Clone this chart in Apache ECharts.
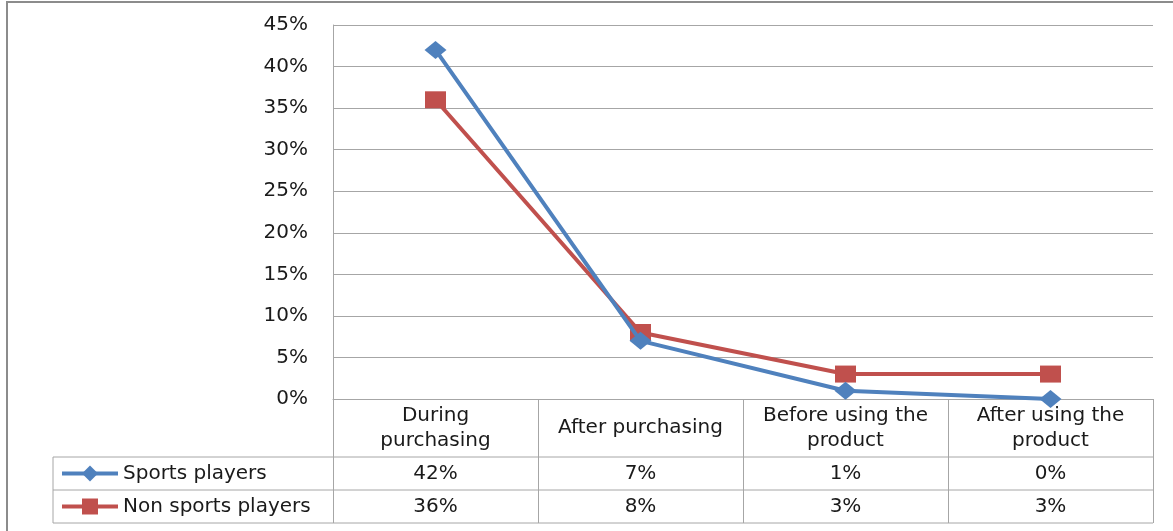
<!DOCTYPE html>
<html><head><meta charset="utf-8">
<script src="https://cdn.jsdelivr.net/npm/echarts@6/dist/echarts.min.js"></script>
<style>html,body{margin:0;padding:0;background:#fff}#c{width:1173px;height:531px}</style>
</head><body><div id="c"></div>
<script>
const categories = ['During purchasing', 'After purchasing', 'Before using the product', 'After using the product'];
const headerLabels = ['During\npurchasing', 'After purchasing', 'Before using the\nproduct', 'After using the\nproduct'];
const seriesNames = ['Sports players', 'Non sports players'];
const sportsPlayers = [42, 7, 1, 0];
const nonSportsPlayers = [36, 8, 3, 3];
const yMax = 45, yStep = 5;

const FONT = 'DejaVu Sans';
const FS = 20;
const TXT = '#1a1a1a';
const LINE = '#a6a6a6';
const BLUE = '#4F81BD', RED = '#C0504D';
// layout
const gL = 333, gR = 1153, gT = 25, gB = 399;
const headerH = 58, rowH = 33, tableLeft = 53;
const W = 1173, H = 531;

const chart = echarts.init(document.getElementById('c'), null, {renderer: 'canvas'});
const option = {
  animation: false,
  backgroundColor: '#fff',
  grid: {left: gL, right: W - gR, top: gT, bottom: H - gB, containLabel: false, outerBoundsMode: 'none'},
  xAxis: {
    type: 'category', data: categories, boundaryGap: true,
    axisLine: {show: true, lineStyle: {color: LINE, width: 1}},
    axisTick: {show: true, length: headerH + 2 * rowH, lineStyle: {color: LINE, width: 1}},
    axisLabel: {
      interval: 0, margin: headerH / 2, verticalAlign: 'middle', align: 'center',
      formatter: (v, i) => headerLabels[i],
      fontFamily: FONT, fontSize: FS, lineHeight: 25, color: TXT
    },
    splitLine: {show: false}
  },
  yAxis: {
    type: 'value', min: 0, max: yMax, interval: yStep,
    axisLine: {show: true, lineStyle: {color: LINE, width: 1}},
    axisTick: {show: false},
    axisLabel: {formatter: v => v + '%', margin: 25, fontFamily: FONT, fontSize: FS, color: TXT},
    splitLine: {show: true, lineStyle: {color: LINE, width: 1}}
  },
  legend: {
    orient: 'vertical', left: 60, top: gB + headerH + rowH / 2 - 10,
    itemWidth: 56, itemHeight: 20, itemGap: rowH - 20, padding: 0,
    lineStyle: {width: 4},
    textStyle: {fontFamily: FONT, fontSize: FS, lineHeight: 20, color: TXT},
    data: seriesNames, selectedMode: false
  },
  series: [
    {name: seriesNames[0], type: 'line', data: sportsPlayers, symbol: 'diamond', symbolSize: [22, 18],
     lineStyle: {color: BLUE, width: 4}, itemStyle: {color: BLUE}, z: 3},
    {name: seriesNames[1], type: 'line', data: nonSportsPlayers, symbol: 'rect', symbolSize: [21, 17],
     lineStyle: {color: RED, width: 4}, itemStyle: {color: RED}, z: 2}
  ]
};
chart.setOption(option);

// data table below the axis
const g = [];
const rowsY = [gB + headerH, gB + headerH + rowH, gB + headerH + 2 * rowH];
rowsY.forEach(y => g.push({type: 'line', shape: {x1: tableLeft, y1: y, x2: gR, y2: y}, style: {stroke: LINE, lineWidth: 1}}));
g.push({type: 'line', shape: {x1: tableLeft, y1: rowsY[0], x2: tableLeft, y2: rowsY[2]}, style: {stroke: LINE, lineWidth: 1}});
[sportsPlayers, nonSportsPlayers].forEach((arr, r) => {
  arr.forEach((v, i) => {
    const x = chart.convertToPixel({xAxisIndex: 0}, i);
    g.push({type: 'text', x: x, y: rowsY[r] + rowH / 2,
      style: {text: v + '%', fontFamily: FONT, fontSize: FS, fill: TXT, align: 'center', verticalAlign: 'middle'}});
  });
});
// outer chart border
g.push({type: 'rect', shape: {x: 7, y: 2, width: W + 10, height: H + 10}, style: {fill: 'none', stroke: '#8c8c8c', lineWidth: 2}, silent: true});
chart.setOption({graphic: g});
</script></body></html>
